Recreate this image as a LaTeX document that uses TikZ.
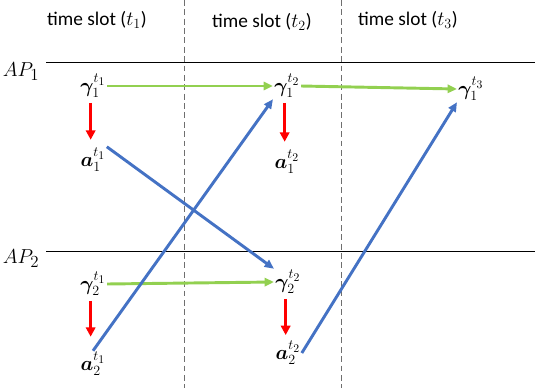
\documentclass[tikz,border=0pt]{standalone}
\usepackage{amsmath,amssymb,bm}
\usepackage{fontspec}
\setmainfont{Carlito}
\usepackage{tikz}
\usetikzlibrary{arrows.meta,positioning,calc}
\definecolor{slotgreen}{HTML}{92D050}
\definecolor{slotblue}{HTML}{4472C4}
\definecolor{slotred}{HTML}{FF0000}
\definecolor{slotgray}{HTML}{6F6F6F}

\begin{document}
\begin{tikzpicture}[x=0.03cm, y=-0.03cm,
    var/.style={inner sep=1pt, font=\LARGE},
    slotlabel/.style={font=\fontsize{16.5}{19}\selectfont},
    aplabel/.style={font=\fontsize{19}{22}\selectfont},
    greenarrow/.style={-{Triangle[length=8pt,width=7pt]}, slotgreen, line width=2.5pt},
    redarrow/.style={-{Triangle[length=8pt,width=8pt]}, slotred, line width=2.5pt},
    bluearrow/.style={-{Triangle[length=8pt,width=7pt]}, slotblue, line width=2.5pt},
    divider/.style={dash pattern=on 5pt off 3pt, slotgray, line width=0.8pt}
]
    \useasboundingbox (0,0) rectangle (535,388);
    % Time slot dividers and AP lines
    \draw[divider] (184,0) -- (184,388);
    \draw[divider] (341,0) -- (341,388);
    \draw[black, line width=0.7pt] (46,62) -- (535,62);
    \draw[black, line width=0.7pt] (46,251) -- (535,251);

    % Labels
    \node[slotlabel] (slot1) at (97,20) {time slot ($t_1$)};
    \node[slotlabel] (slot2) at (262,22) {time slot ($t_2$)};
    \node[slotlabel] (slot3) at (408,20) {time slot ($t_3$)};
    \node[aplabel] (ap1) at (21,72) {$AP_1$};
    \node[aplabel] (ap2) at (21,259) {$AP_2$};

    % Variables of AP1
    \node[var] (g11) at (93,86) {$\bm{\gamma}_1^{t_1}$};
    \node[var] (g12) at (287,86) {$\bm{\gamma}_1^{t_2}$};
    \node[var] (g13) at (471,89) {$\bm{\gamma}_1^{t_3}$};
    \node[var] (a11) at (93,160) {$\bm{a}_1^{t_1}$};
    \node[var] (a12) at (287,162) {$\bm{a}_1^{t_2}$};

    % Variables of AP2
    \node[var] (g21) at (93,284) {$\bm{\gamma}_2^{t_1}$};
    \node[var] (g22) at (288,282) {$\bm{\gamma}_2^{t_2}$};
    \node[var] (a21) at (93,364) {$\bm{a}_2^{t_1}$};
    \node[var] (a22) at (288,353) {$\bm{a}_2^{t_2}$};

    % Green arrows
    \draw[greenarrow] (g11.east) -- (g12.west);
    \draw[greenarrow] (g12.east) -- (g13.west);
    \draw[greenarrow] (g21.east) -- (g22.west);

    % Red arrows
    \draw[redarrow, shorten <=3pt, shorten >=6pt] ([xshift=-2pt]g11.south) -- ([xshift=-2pt]a11.north);
    \draw[redarrow, shorten <=3pt, shorten >=6pt] ([xshift=-2pt]g12.south) -- ([xshift=-2pt]a12.north);
    \draw[redarrow, shorten <=3pt, shorten >=12pt] ([xshift=-2pt]g21.south) -- ([xshift=-2pt]a21.north);
    \draw[redarrow, shorten <=3pt, shorten >=4pt] ([xshift=-2pt]g22.south) -- ([xshift=-2pt]a22.north);

    % Blue arrows
    \draw[bluearrow] (a11.north east) -- (g22.north west);
    \draw[bluearrow] (a21.north) -- (g12.south west);
    \draw[bluearrow] (a22.east) -- (g13.south west);
\end{tikzpicture}
\end{document}
